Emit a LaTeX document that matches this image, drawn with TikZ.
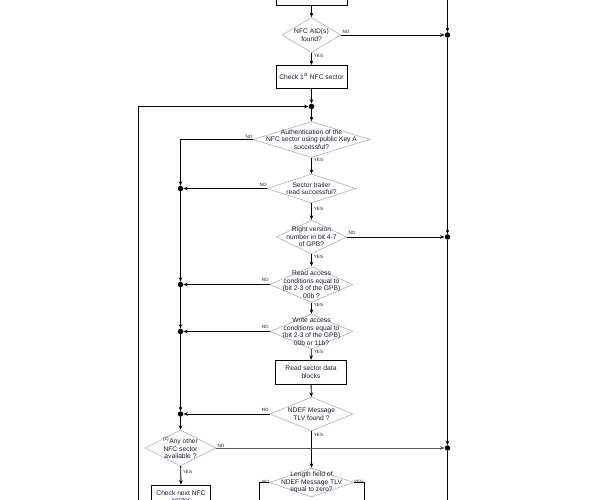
\documentclass[tikz,border=0pt]{standalone}
\usepackage{fontspec}
\setmainfont{Liberation Sans}
\usetikzlibrary{arrows.meta,shapes.geometric}
\definecolor{txt}{RGB}{28,28,48}
\definecolor{dgray}{RGB}{176,176,176}
\definecolor{lgline}{RGB}{90,90,90}
\tikzset{
  every node/.style={text=txt},
  dia/.style={draw=dgray,line width=0.6pt,shape=diamond,inner sep=0pt,minimum width=2*#1},
  dtext/.style={font=\fontsize{6.7}{7.6}\selectfont,align=center,inner sep=0pt},
  box/.style={draw=black,line width=1pt,inner sep=0pt,font=\fontsize{6.7}{7.6}\selectfont,align=center},
  dot/.style={circle,fill=black,inner sep=0pt,minimum size=5.5pt},
  lab/.style={font=\fontsize{4.6}{5}\selectfont,inner sep=0pt},
  conn/.style={line width=0.9pt,draw=black,-{Stealth[length=4.4pt,width=3.6pt]}},
  plain/.style={line width=0.9pt,draw=black},
}
\begin{document}
\begin{tikzpicture}[x=1pt,y=-1pt]
\clip (0,0) rectangle (598,500);
\fill[white] (0,0) rectangle (598,500);
% boxes
\node[box,minimum width=71pt,minimum height=23pt] (B0) at (311.5,-6) {};
\node[box,minimum width=71pt,minimum height=23pt] (B1) at (311.5,77) {Check 1\textsuperscript{st} NFC sector};
\node[box,minimum width=71.5pt,minimum height=24pt] (B2) at (311,372.2) {Read sector data\\blocks};
\node[box,minimum width=59pt,minimum height=23pt] (B3) at (181,496.5) {Check next NFC\\sector};
% diamonds (shape) and their texts
\node[dia=29.5pt,minimum height=35pt] (D1) at (311.5,35) {};
\node[dtext] (D1t) at (D1) {NFC AID(s)\\found?};
\node[dia=58.5pt,minimum height=36pt] (D2) at (311.5,139.5) {};
\node[dtext] (D2t) at (D2) {Authentication of the\\NFC sector using public Key A\\successful?};
\node[dia=44.5pt,minimum height=29pt] (D3) at (311.5,188.5) {};
\node[dtext] (D3t) at (D3) {Sector trailer\\read successful?};
\node[dia=35pt,minimum height=34pt] (D4) at (311.5,237) {};
\node[dtext] (D4t) at (D4) {Right version\\number in bit 4-7\\of GPB?};
\node[dia=41.5pt,minimum height=36pt] (D5) at (311.5,284.5) {};
\node[dtext] (D5t) at (D5) {Read access\\conditions equal to\\(bit 2-3 of the GPB)\\00b ?};
\node[dia=41.5pt,minimum height=35pt] (D6) at (311.5,331.5) {};
\node[dtext] (D6t) at (D6) {Write access\\conditions equal to\\(bit 2-3 of the GPB)\\00b or 11b?};
\node[dia=41.5pt,minimum height=34pt] (D7) at (311.5,414) {};
\node[dtext] (D7t) at (D7) {NDEF Message\\TLV found ?};
\node[dia=42pt,minimum height=29pt] (D8) at (311.5,482.5) {};
\node[dtext] (D8t) at (D8) {Length field of\\NDEF Message TLV\\equal to zero?};
\node[dia=35.5pt,minimum height=36pt] (D9) at (180.5,448) {};
\node[dtext] (D9t) at (D9) {\textsuperscript{(1)}Any other\\NFC sector\\available ?};
% junction dots
\node[dot] (dA) at (447.5,35) {};
\node[dot] (dB) at (311.5,106.5) {};
\node[dot] (dC) at (180.5,188.5) {};
\node[dot] (dD) at (447.5,237) {};
\node[dot] (dE) at (180.5,284.5) {};
\node[dot] (dF) at (180.5,331.5) {};
\node[dot] (dG) at (180.5,414) {};
\node[dot] (dH) at (447.5,448) {};
% free ends
\coordinate (rtop) at (447.5,-8);
\coordinate (rbot) at (447.5,508);
\coordinate (lbot) at (138,508);
\coordinate (nob) at (259,508);
\coordinate (yesb) at (364.3,508);
% right column
\draw[conn] (rtop) -- (dA);
\draw[conn] (dA) -- (dD);
\draw[conn] (dD) -- (dH);
\draw[plain] (dH) -- (rbot);
% main column
\draw[conn] (B0) -- (D1);
\draw[conn] (D1.east) -- (dA);
\draw[conn] (D1) -- (B1);
\draw[conn] (B1) -- (dB);
\draw[conn] (lbot) |- (dB);
\draw[conn] (dB) -- (D2);
\draw[conn] (D2.west) -| (dC);
\draw[conn] (D2) -- (D3);
\draw[conn] (D3.west) -- (dC);
\draw[conn] (D3) -- (D4);
\draw[conn] (D4.east) -- (dD);
\draw[conn] (D4) -- (D5);
\draw[conn] (D5.west) -- (dE);
\draw[conn] (D5) -- (D6);
\draw[conn] (D6.west) -- (dF);
\draw[conn] (D6) -- (B2);
\draw[conn] (B2) -- (D7);
\draw[conn] (D7.west) -- (dG);
\draw[conn] (D7) -- (D8);
% left column
\draw[conn] (dC) -- (dE);
\draw[conn] (dE) -- (dF);
\draw[conn] (dF) -- (dG);
\draw[conn] (dG) -- (D9);
\draw[conn,draw=lgline] (D9.east) -- (dH);
\draw[conn] (D9) -- (B3);
% length field branches
\draw[plain] (D8.west) -| (nob);
\draw[plain] (D8.east) -| (yesb);
% labels
\node[lab] (l1n) at (346,32.3) {NO};
\node[lab] (l1y) at (318.5,56) {YES};
\node[lab] (l2n) at (249,136.5) {NO};
\node[lab] (l2y) at (318.5,160.3) {YES};
\node[lab] (l3n) at (263.3,185) {NO};
\node[lab] (l3y) at (318.5,208.7) {YES};
\node[lab] (l4n) at (352,232.7) {NO};
\node[lab] (l4y) at (318.5,257.3) {YES};
\node[lab] (l5n) at (265.3,280.3) {NO};
\node[lab] (l5y) at (318.5,305) {YES};
\node[lab] (l6n) at (265.3,327) {NO};
\node[lab] (l6y) at (318.5,351.7) {YES};
\node[lab] (l7n) at (265.3,410) {NO};
\node[lab] (l7y) at (318.5,435) {YES};
\node[lab] (l9n) at (221,445.7) {NO};
\node[lab] (l9y) at (187.5,471.7) {YES};
\node[lab] (l8n) at (265.5,481.5) {NO};
\node[lab] (l8y) at (358.7,481.5) {YES};
\end{tikzpicture}
\end{document}
